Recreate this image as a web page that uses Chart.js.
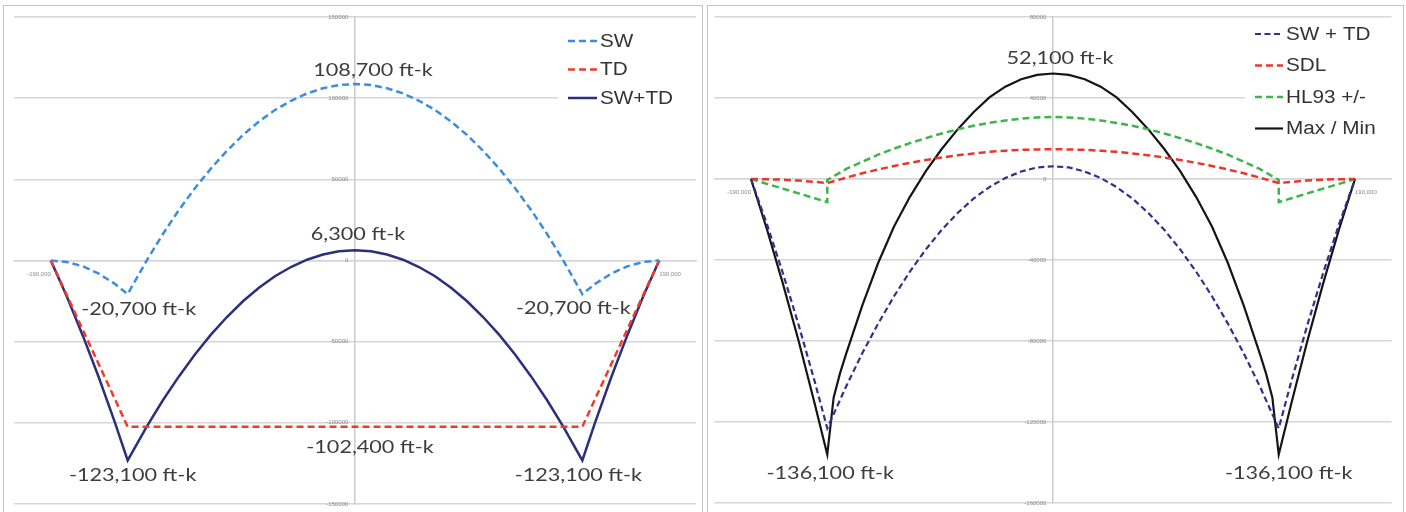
<!DOCTYPE html>
<html><head><meta charset="utf-8">
<script src="https://cdn.jsdelivr.net/npm/chart.js@4"></script>
<style>
html,body{margin:0;padding:0;background:#fff;}
body{width:1406px;height:512px;position:relative;overflow:hidden;}
canvas{position:absolute;top:0;}
.panel{position:absolute;top:5px;height:530px;border:1.5px solid #c4c4c4;box-sizing:border-box;pointer-events:none;}
</style></head><body>
<canvas id="c1" width="705" height="512" style="left:0;width:705px;height:512px"></canvas>
<canvas id="c2" width="701" height="512" style="left:705px;width:701px;height:512px"></canvas>
<div class="panel" style="left:3px;width:700px"></div>
<div class="panel" style="left:707px;width:697px"></div>
<script>
// ---------- data ----------
const positions = [-190000,-180000,-170000,-160000,-150000,-142000,-130000,-120000,-110000,-100000,-90000,-80000,-70000,-60000,-50000,-40000,-30000,-20000,-10000,0,10000,20000,30000,40000,50000,60000,70000,80000,90000,100000,110000,120000,130000,142000,150000,160000,170000,180000,190000];
const swValues = [0,-900,-3600,-8100,-14400,-20700,200,16300,31100,44500,56700,67600,77300,85600,92700,98400,102900,106100,108100,108700,108100,106100,102900,98400,92700,85600,77300,67600,56700,44500,31100,16300,200,-20700,-14400,-8100,-3600,-900,0];
const tdValues = [0,-21300,-42700,-64000,-85300,-102400,-102400,-102400,-102400,-102400,-102400,-102400,-102400,-102400,-102400,-102400,-102400,-102400,-102400,-102400,-102400,-102400,-102400,-102400,-102400,-102400,-102400,-102400,-102400,-102400,-102400,-102400,-102400,-102400,-85300,-64000,-42700,-21300,0];
const swtdValues = [0,-22200,-46300,-72100,-99700,-123100,-102200,-86100,-71400,-57900,-45700,-34800,-25100,-16800,-9700,-4000,500,3700,5700,6300,5700,3700,500,-4000,-9700,-16800,-25100,-34800,-45700,-57900,-71400,-86100,-102200,-123100,-99700,-72100,-46300,-22200,0];
const sdlValues = [0,-100,-350,-800,-1400,-2000,700,2800,4700,6400,8000,9400,10600,11700,12600,13400,14000,14400,14600,14700,14600,14400,14000,13400,12600,11700,10600,9400,8000,6400,4700,2800,700,-2000,-1400,-800,-350,-100,0];
const hlPositions = [-190000,-180000,-170000,-160000,-150000,-142000,-142000,-130000,-120000,-110000,-100000,-90000,-80000,-70000,-60000,-50000,-40000,-30000,-20000,-10000,0,10000,20000,30000,40000,50000,60000,70000,80000,90000,100000,110000,120000,130000,142000,142000,150000,160000,170000,180000,190000];
const hlValues = [0,-2400,-4750,-7100,-9500,-11400,-500,5000,8500,12000,15000,17700,20200,22500,24500,26300,27700,28900,29800,30400,30600,30400,29800,28900,27700,26300,24500,22500,20200,17700,15000,12000,8500,5000,-500,-11400,-9500,-7100,-4750,-2400,0];
const maxMinPositions = [-190000,-180000,-170000,-160000,-150000,-142000,-138000,-134000,-130000,-120000,-110000,-100000,-90000,-80000,-70000,-60000,-50000,-40000,-30000,-20000,-10000,0,10000,20000,30000,40000,50000,60000,70000,80000,90000,100000,110000,120000,130000,134000,138000,142000,150000,160000,170000,180000,190000];
const maxMinValues = [0,-24700,-51400,-80000,-110600,-136100,-108000,-96000,-86000,-62500,-41500,-23500,-8800,3900,14800,24500,33000,40300,45600,49300,51400,52100,51400,49300,45600,40300,33000,24500,14800,3900,-8800,-23500,-41500,-62500,-86000,-96000,-108000,-136100,-110600,-80000,-51400,-24700,0];
const leftYTicks = [150000,100000,50000,0,-50000,-100000,-150000];
const rightYTicks = [80000,40000,0,-40000,-80000,-120000,-160000];
const xEndTicks = [-190000,190000];
const leftLegend = ['SW','TD','SW+TD'];
const rightLegend = ['SW + TD','SDL','HL93 +/-','Max / Min'];
const unit = ' ft-k';

// ---------- helpers ----------
const pts = (xs, ys) => xs.map((x, i) => ({x, y: ys[i]}));
const fmt = v => v.toLocaleString('en-US');

const overlayPlugin = {
  id: 'overlay',
  beforeDatasetsDraw(chart, args, o) {
    const ctx = chart.ctx;
    ctx.save();
    ctx.fillStyle = '#fff';
    ctx.fillRect(o.legend.bg[0], o.legend.bg[1], o.legend.bg[2], o.legend.bg[3]);
    ctx.restore();
  },
  afterDatasetsDraw(chart, args, o) {
    const ctx = chart.ctx, xs = chart.scales.x, ys = chart.scales.y;
    ctx.save();
    ctx.font = o.font; ctx.fillStyle = o.color;
    ctx.textAlign = 'center'; ctx.textBaseline = 'middle';
    o.items.forEach(it => {
      const ds = chart.data.datasets[it.ds];
      const p = ds.data[it.i];
      const px = xs.getPixelForValue(p.x) + it.dx, py = ys.getPixelForValue(p.y) + it.dy;
      ctx.save(); ctx.translate(px, py); ctx.scale(o.stretch, 1);
      ctx.fillText(fmt(p.y) + unit, 0, 0);
      ctx.restore();
    });
    // legend
    const L = o.legend;
    ctx.font = L.font; ctx.textAlign = 'left'; ctx.textBaseline = 'middle';
    L.labels.forEach((lab, k) => {
      const ds = chart.data.datasets[k];
      const y = L.y + k * L.gap;
      ctx.save();
      ctx.strokeStyle = ds.borderColor; ctx.lineWidth = ds.borderWidth;
      ctx.setLineDash(ds.borderDash || []);
      ctx.beginPath(); ctx.moveTo(L.x, y); ctx.lineTo(L.x + L.len, y); ctx.stroke();
      ctx.restore();
      ctx.save(); ctx.fillStyle = L.color; ctx.translate(L.x + L.len + 3, y + 1); ctx.scale(L.stretch, 1);
      ctx.fillText(lab, 0, 0); ctx.restore();
    });
    ctx.restore();
  }
};

function scalesFor(yMin, yMax, yTicks, xMin, xMax) {
  const tickFont = {family: 'Liberation Sans', size: 6};
  return {
    x: {type: 'linear', min: xMin, max: xMax, position: {y: 0},
        grid: {display: false, drawTicks: false},
        border: {display: true, color: '#d6d6d6', width: 1.5},
        afterBuildTicks: s => { s.ticks = [{value: xEndTicks[0]}]; },
        ticks: {align: 'end', padding: 10, font: tickFont, color: '#8a8a8a', callback: v => fmt(v)}},
    x2: {type: 'linear', min: xMin, max: xMax, position: {y: 0},
        grid: {display: false, drawTicks: false}, border: {display: false},
        afterBuildTicks: s => { s.ticks = [{value: xEndTicks[1]}]; },
        ticks: {align: 'start', padding: 10, font: tickFont, color: '#8a8a8a', callback: v => fmt(v)}},
    y: {type: 'linear', min: yMin, max: yMax, position: {x: 0},
        afterBuildTicks: s => { s.ticks = yTicks.map(v => ({value: v})); },
        grid: {color: '#d6d6d6', lineWidth: 1.5, drawTicks: false},
        border: {display: true, color: '#cacaca', width: 1.5},
        ticks: {font: tickFont, color: '#8a8a8a', padding: 0, callback: v => String(v) + '    '}}
  };
}

const baseOpts = {
  responsive: false, animation: false, events: [],
  elements: {point: {radius: 0}, line: {tension: 0, capBezierPoints: false}},
};

new Chart(document.getElementById('c1'), {
  type: 'line',
  data: {datasets: [
    {label: leftLegend[0], data: pts(positions, swValues), borderColor: '#3b8de0', borderWidth: 2.5, borderDash: [7, 4]},
    {label: leftLegend[1], data: pts(positions, tdValues), borderColor: '#f03a2a', borderWidth: 2.5, borderDash: [7, 4]},
    {label: leftLegend[2], data: pts(positions, swtdValues), borderColor: '#2b2f7c', borderWidth: 2.5}
  ]},
  options: Object.assign({}, baseOpts, {
    layout: {padding: {left: 14, right: 9, top: 17, bottom: 8}},
    scales: scalesFor(-150000, 150000, leftYTicks, -213000, 213000),
    plugins: {legend: {display: false}, tooltip: {enabled: false},
      overlay: {
        font: '18px Lato, "Open Sans", sans-serif', color: '#3d3d3d', stretch: 1.2,
        items: [
          {ds: 0, i: 19, dx: 18, dy: -14},
          {ds: 2, i: 19, dx: 3, dy: -16},
          {ds: 0, i: 5, dx: 11, dy: 15},
          {ds: 0, i: 33, dx: -9, dy: 14},
          {ds: 2, i: 5, dx: 5, dy: 15},
          {ds: 2, i: 33, dx: -4, dy: 15},
          {ds: 1, i: 19, dx: 15, dy: 20}
        ],
        legend: {labels: leftLegend, x: 568, y: 41, gap: 28.5, len: 29, font: '18px "Liberation Sans"', color: '#333', stretch: 1.15, bg: [558, 22, 147, 92]}
      }}
  }),
  plugins: [overlayPlugin]
});

new Chart(document.getElementById('c2'), {
  type: 'line',
  data: {datasets: [
    {label: rightLegend[0], data: pts(positions, swtdValues), borderColor: '#2e3190', borderWidth: 2.2, borderDash: [6, 3.5]},
    {label: rightLegend[1], data: pts(positions, sdlValues), borderColor: '#e8372b', borderWidth: 2.5, borderDash: [7, 4]},
    {label: rightLegend[2], data: pts(hlPositions, hlValues), borderColor: '#3db54a', borderWidth: 2.5, borderDash: [7, 4]},
    {label: rightLegend[3], data: pts(maxMinPositions, maxMinValues), borderColor: '#151515', borderWidth: 2.2}
  ]},
  options: Object.assign({}, baseOpts, {
    layout: {padding: {left: 9.4, right: 14.4, top: 17, bottom: 9}},
    scales: scalesFor(-160000, 80000, rightYTicks, -213000, 213000),
    plugins: {legend: {display: false}, tooltip: {enabled: false},
      overlay: {
        font: '18px Lato, "Open Sans", sans-serif', color: '#3d3d3d', stretch: 1.2,
        items: [
          {ds: 3, i: 21, dx: 7, dy: -15},
          {ds: 3, i: 5, dx: 3, dy: 19},
          {ds: 3, i: 37, dx: 10, dy: 19}
        ],
        legend: {labels: rightLegend, x: 550, y: 34, gap: 31.5, len: 28, font: '18px "Liberation Sans"', color: '#333', stretch: 1.15, bg: [540, 20, 161, 124]}
      }}
  }),
  plugins: [overlayPlugin]
});
</script>
</body></html>
